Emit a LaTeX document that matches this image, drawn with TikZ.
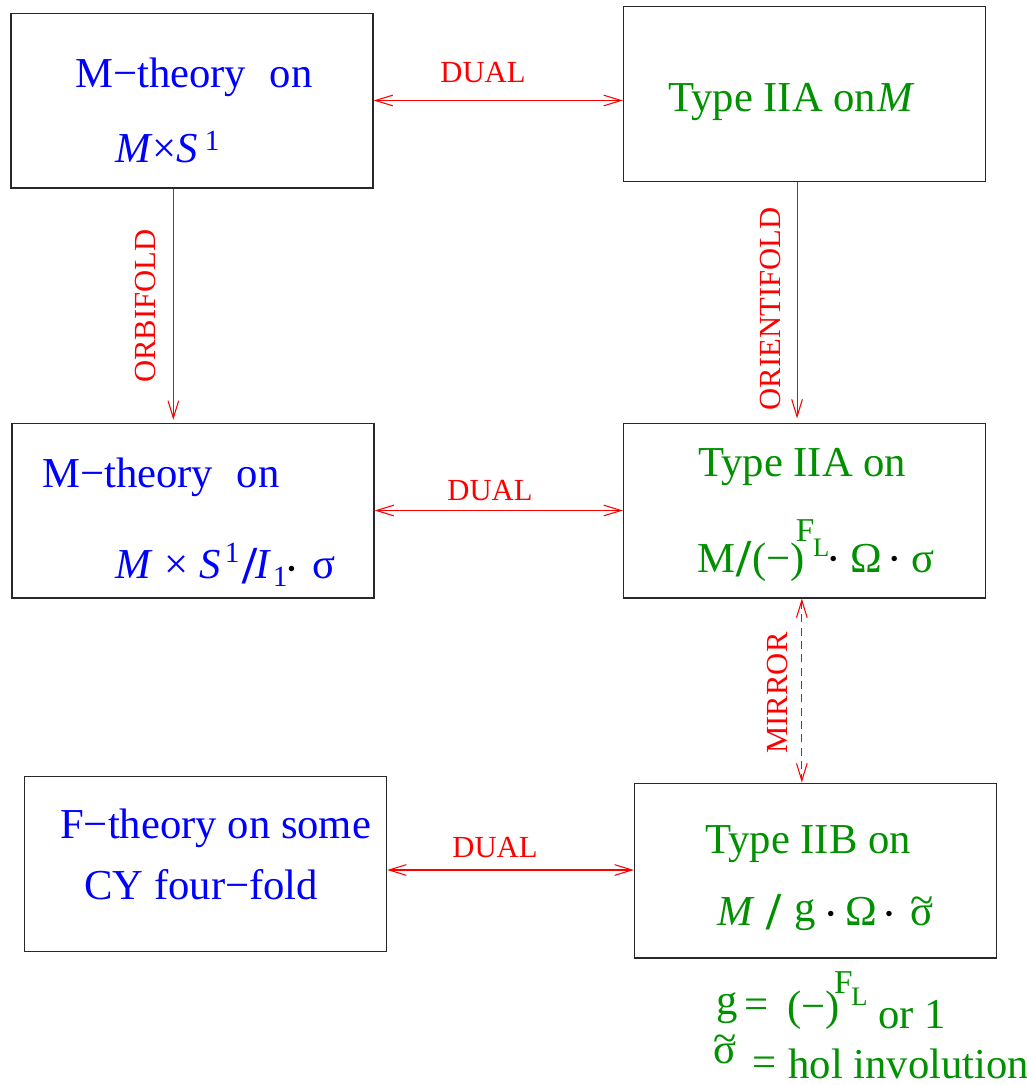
\documentclass[tikz,border=0pt]{standalone}
\usepackage{fontspec}
\setmainfont{Liberation Serif}
\usepackage{xcolor}
\usepackage{tikz}
\usetikzlibrary{arrows.meta, positioning}
\definecolor{dualred}{RGB}{255,0,0}
\definecolor{mblue}{RGB}{0,0,255}
\definecolor{twogreen}{RGB}{0,144,0}
\definecolor{boxgray}{RGB}{40,40,40}
\newcommand\blkdot[1][0pt]{\raisebox{#1}{\color{black}\fontsize{17}{17}\selectfont •}}
\newcommand\sigtil{\ooalign{σ\cr\hidewidth\raisebox{0.25em}{\char`\~}\hidewidth\cr}}
\newcommand\bigslash[1][0pt]{\raisebox{#1}{\fontsize{40}{40}\selectfont\bfseries /}}
\newcommand\fsup[2]{\raisebox{#1}{\fontsize{25}{25}\selectfont F}\kern-1pt\raisebox{#2}{\fontsize{20}{20}\selectfont L}}
\tikzset{
  theorybox/.style={
    rectangle, draw=boxgray, line width=1pt, inner sep=0pt,
    minimum width=271.5pt, minimum height=131pt
  },
  mtext/.style={anchor=base west, inner sep=0pt, text=mblue, font=\fontsize{32}{36}\selectfont},
  iitext/.style={anchor=base west, inner sep=0pt, text=twogreen, font=\fontsize{32}{36}\selectfont},
  arrowlabel/.style={inner sep=0pt, text=dualred, font=\fontsize{23}{26}\selectfont},
  dualarrow/.style={{Straight Barb[length=13pt,width=8pt]}-{Straight Barb[length=13pt,width=8pt]}, line width=0.8pt, draw=dualred},
  maparrow/.style={-{Straight Barb[length=13pt,width=8pt]}, line width=0.8pt, draw=dualred}
}
\begin{document}
\begin{tikzpicture}[x=0.75pt, y=-0.75pt]
\useasboundingbox (0,0) rectangle (1027,1085);

% Top row
\node[theorybox] (mcirc) at (192,100.5) {};
\node[theorybox] (iiam) at (804.5,94) {};
\node[mtext] (mcirca) at (75,87) {M−theory\hspace{.55em}on};
\node[mtext] (mcircb) at (115,162) {\textit{M}×\textit{S}\kern5pt\raisebox{9pt}{\fontsize{22}{22}\selectfont 1}};
\node[iitext] (iiama) at (668,111) {Type IIA on\kern1pt\textit{M}};

\draw[dualarrow] (mcirc.east) -- (mcirc.east -| iiam.west);
\node[arrowlabel, anchor=base] (dualtop) at (483,82) {DUAL};

% Middle row
\node[theorybox] (morb) at (193,510.5) {};
\node[theorybox] (iiaor) at (804.5,510.5) {};
\node[mtext] (morba) at (42,487) {M−theory\hspace{.55em}on};
\node[mtext] (morbb) at (115,578) {\textit{M}\kern9pt×\kern8pt\textit{S}\kern3pt\raisebox{12pt}{\fontsize{22}{22}\selectfont 1}\kern2pt\bigslash[-4pt]\kern-1pt\textit{I}\kern1pt\raisebox{-6pt}{\fontsize{22}{22}\selectfont 1}\blkdot[1pt]\kern13pt σ};
\node[iitext] (iiaora) at (698,476) {Type IIA on};
\node[iitext] (iiaorb) at (697,572) {M\kern1pt\bigslash[-3pt]\kern1pt(−)\kern-7pt\fsup{23pt}{12pt}\blkdot[4pt]\kern10pt Ω\kern6pt\blkdot[4pt]\kern10pt σ};

\draw[maparrow, shorten >=2pt] ([xshift=-14pt]mcirc.south) -- ([xshift=-14pt]mcirc.south |- morb.north);
\node[arrowlabel, rotate=90, anchor=base] (orbl) at (155,306) {ORBIFOLD};
\draw[maparrow, shorten >=3pt] ([xshift=-5.6pt]iiam.south) -- ([xshift=-5.6pt]iiam.south |- iiaor.north);
\node[arrowlabel, rotate=90, anchor=base] (orientl) at (780,309) {ORIENTIFOLD};
\draw[dualarrow] (morb.east) -- (morb.east -| iiaor.west);
\node[arrowlabel, anchor=base] (dualmid) at (490,500) {DUAL};

% Bottom row
\node[theorybox] (ftheo) at (205.5,864) {};
\node[theorybox] (iib) at (815.5,870.5) {};
\node[mtext] (ftheoa) at (60,838) {F−theory on some};
\node[mtext] (ftheob) at (84,899) {CY four−fold};
\node[iitext] (iiba) at (705,853) {Type IIB on};
\node[iitext] (iibb) at (717,925) {\textit{M}\kern9pt\bigslash[-3pt]\kern10pt\raisebox{3pt}{g}\kern8pt\blkdot[3pt]\kern8pt Ω\kern6pt\blkdot[3pt]\kern13pt\sigtil};

\draw[dualarrow, dashed, dash pattern=on 6pt off 4pt] ([xshift=-2pt]iiaor.south) -- ([xshift=-2pt]iiaor.south |- iib.north);
\node[arrowlabel, rotate=90, anchor=base] (mirrorl) at (787,693) {MIRROR};
\draw[dualarrow] ([yshift=-4.5pt]ftheo.east) -- ([yshift=-4.5pt]ftheo.east -| iib.west);
\node[arrowlabel, anchor=base] (dualbot) at (495,857) {DUAL};

% Notes below the IIB box
\node[iitext] (gnote) at (716,1020) {\raisebox{4pt}{g\kern5pt\raisebox{-3pt}{=}}\kern14pt(−)\kern-4pt\fsup{20pt}{11pt}\kern8pt\raisebox{-6pt}{or 1}};
\node[iitext] (signote) at (713,1078) {\raisebox{11pt}{\sigtil}\kern12pt\raisebox{1pt}{=}\kern9pt hol involution};

\end{tikzpicture}
\end{document}
